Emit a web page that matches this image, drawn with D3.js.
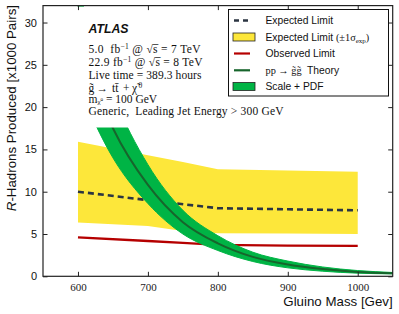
<!DOCTYPE html>
<html>
<head>
<meta charset="utf-8">
<script src="https://cdn.jsdelivr.net/npm/d3@7"></script>
<style>
  html, body { margin: 0; padding: 0; background: #fff; }
  svg { display: block; }
</style>
</head>
<body>
<div id="chart"></div>
<script>
// gluino masses [GeV]
var limitMass = [600, 700, 800, 900, 1000];
var expectedLimit = [10.0, 9.0, 8.05, 7.92, 7.8];
var bandMass = [600, 700, 750, 800, 900, 1000];
var bandUpper = [15.9, 14.3, 13.5, 12.65, 12.5, 12.35];
var bandLower = [6.35, 5.95, 5.35, 5.08, 5.05, 5.0];
var observedMass = [600, 700, 750, 800, 900, 1000];
var observedLimit = [4.6, 4.17, 3.95, 3.72, 3.63, 3.6];

// theory pp -> gluino pairs, with scale + pdf envelope
var theoryMass = [600, 650, 700, 750, 800, 850, 900, 950, 1000, 1050];
var theory = [28, 17.5, 10.8, 6.4, 3.9, 2.3, 1.4, 0.85, 0.52, 0.37];
var theoryUp = [34, 21.5, 13.2, 7.8, 4.8, 2.85, 1.8, 1.1, 0.68, 0.45];
var theoryDown = [22.5, 14.0, 8.6, 5.0, 3.05, 1.75, 1.0, 0.6, 0.37, 0.29];

var xTicks = [600, 700, 800, 900, 1000];
var yTicks = [0, 5, 10, 15, 20, 25, 30];

var W = 399, H = 314;
var plot = { left: 43, right: 392.7, top: 5.6, bottom: 276.3 };

var colors = {
  expected: "#2b3542",
  band: "#fde73a",
  observed: "#b50000",
  theoryLine: "#17652c",
  theoryFill: "#00b445",
  frame: "#222"
};

var svg = d3.select("#chart").append("svg")
  .attr("width", W).attr("height", H);

var x = d3.scaleLinear().domain([550, 1050]).range([plot.left, plot.right]);
var y = d3.scaleLinear().domain([0, 32]).range([plot.bottom, plot.top]);

svg.append("clipPath").attr("id", "plotclip")
  .append("rect")
  .attr("x", plot.left).attr("y", plot.top)
  .attr("width", plot.right - plot.left).attr("height", plot.bottom - plot.top);

var g = svg.append("g").attr("clip-path", "url(#plotclip)");

// yellow +-1 sigma band
var bandArea = d3.area()
  .x(function(d, i) { return x(bandMass[i]); })
  .y0(function(d, i) { return y(bandLower[i]); })
  .y1(function(d, i) { return y(bandUpper[i]); });
g.append("path").datum(bandMass)
  .attr("d", bandArea)
  .attr("fill", colors.band);

// expected limit (dashed)
var expLine = d3.line()
  .x(function(d, i) { return x(limitMass[i]); })
  .y(function(d) { return y(d); });
g.append("path").datum(expectedLimit)
  .attr("d", expLine)
  .attr("fill", "none")
  .attr("stroke", colors.expected)
  .attr("stroke-width", 2.6)
  .attr("stroke-dasharray", "6,4");

// observed limit
var obsLine = d3.line()
  .x(function(d, i) { return x(observedMass[i]); })
  .y(function(d) { return y(d); });
g.append("path").datum(observedLimit)
  .attr("d", obsLine)
  .attr("fill", "none")
  .attr("stroke", colors.observed)
  .attr("stroke-width", 2.4);

// theory band + central value
var thArea = d3.area()
  .curve(d3.curveMonotoneX)
  .x(function(d, i) { return x(theoryMass[i]); })
  .y0(function(d, i) { return y(theoryDown[i]); })
  .y1(function(d, i) { return y(theoryUp[i]); });
g.append("path").datum(theoryMass)
  .attr("d", thArea)
  .attr("fill", colors.theoryFill)
  .attr("stroke", colors.theoryFill)
  .attr("stroke-width", 1);

var thLine = d3.line()
  .curve(d3.curveMonotoneX)
  .x(function(d, i) { return x(theoryMass[i]); })
  .y(function(d) { return y(d); });
g.append("path").datum(theory)
  .attr("d", thLine)
  .attr("fill", "none")
  .attr("stroke", colors.theoryLine)
  .attr("stroke-width", 2);

// white box behind the info text
svg.append("rect")
  .attr("x", plot.left + 1).attr("y", plot.top + 1)
  .attr("width", 250).attr("height", 127.5 - plot.top - 1)
  .attr("fill", "#fff");

// frame
svg.append("rect")
  .attr("x", plot.left).attr("y", plot.top)
  .attr("width", plot.right - plot.left).attr("height", plot.bottom - plot.top)
  .attr("fill", "none").attr("stroke", colors.frame).attr("stroke-width", 1.2);

// axes, ticks point inward on all four sides
var tk = 4.5;
var xb = svg.append("g").attr("transform", "translate(0," + plot.bottom + ")")
  .call(d3.axisBottom(x).tickValues(xTicks).tickFormat(d3.format("d"))
    .tickSizeInner(-tk).tickSizeOuter(0).tickPadding(7));
var xt = svg.append("g").attr("transform", "translate(0," + plot.top + ")")
  .call(d3.axisTop(x).tickValues(xTicks).tickSizeInner(-tk).tickSizeOuter(0).tickFormat(""));
var yl = svg.append("g").attr("transform", "translate(" + plot.left + ",0)")
  .call(d3.axisLeft(y).tickValues(yTicks).tickSizeInner(-tk).tickSizeOuter(0).tickPadding(6));
var yr = svg.append("g").attr("transform", "translate(" + plot.right + ",0)")
  .call(d3.axisRight(y).tickValues(yTicks).tickSizeInner(-tk).tickSizeOuter(0).tickFormat(""));

[xb, xt, yl, yr].forEach(function(a) {
  a.select(".domain").remove();
  a.selectAll(".tick line").attr("stroke", colors.frame).attr("stroke-width", 1);
});
xb.selectAll(".tick text")
  .attr("font-family", "'Liberation Serif', serif")
  .attr("font-size", 11).attr("fill", "#222");
yl.selectAll(".tick text")
  .attr("font-family", "'Liberation Sans', Arial, sans-serif")
  .attr("font-size", 11).attr("fill", "#111");

// axis titles
svg.append("text")
  .attr("x", plot.right).attr("y", 305.5)
  .attr("text-anchor", "end")
  .attr("font-family", "'Liberation Sans', Arial, sans-serif")
  .attr("font-size", 13.3).attr("fill", "#111")
  .text("Gluino Mass [Gev]");

var yt = svg.append("text")
  .attr("transform", "translate(16,5) rotate(-90)")
  .attr("text-anchor", "end")
  .attr("font-family", "'Liberation Sans', Arial, sans-serif")
  .attr("font-size", 13.3).attr("fill", "#111");
yt.append("tspan").attr("font-style", "italic").text("R");
yt.append("tspan").text("-Hadrons Produced [x1000 Pairs]");

// info block
svg.append("text")
  .attr("x", 88.5).attr("y", 33)
  .attr("font-family", "'Liberation Sans', Arial, sans-serif")
  .attr("font-weight", "bold").attr("font-style", "italic")
  .attr("font-size", 12.3).attr("fill", "#111")
  .text("ATLAS");

var serif = "'Liberation Serif', 'Times New Roman', serif";
var info = svg.append("g")
  .attr("font-family", serif).attr("font-size", 11.5).attr("fill", "#111");
// baselines and widths of the info lines (the original is set in TeX, wider)
var infoY = [52.5, 65.5, 78.5, 92, 103, 114.5];
var infoW = [112, 114, 113, null, null, 195];

function addLine(i, parts) {
  var t = info.append("text").attr("x", 88.5).attr("y", infoY[i])
    .attr("xml:space", "preserve");
  if (infoW[i]) t.attr("textLength", infoW[i]).attr("lengthAdjust", "spacing");
  parts.forEach(function(p) {
    var s = t.append("tspan").text(p.t);
    if (p.x) s.attr("x", p.x);
    if (p.dy) s.attr("dy", p.dy);
    if (p.size) s.attr("font-size", p.size);
  });
  return t;
}

addLine(0, [{ t: "5.0  fb" }, { t: "\u22121", dy: -4, size: 7.5 }, { t: " @ \u221As\u0305 = 7 TeV", dy: 4 }]);
addLine(1, [{ t: "22.9 fb" }, { t: "\u22121", dy: -4, size: 7.5 }, { t: " @ \u221As\u0305 = 8 TeV", dy: 4 }]);
addLine(2, [{ t: "Live time = 389.3 hours" }]);
// decay line, each symbol placed on its own
addLine(3, [{ t: "g\u0303", x: 88.5 }, { t: "\u2192", x: 96.5 }, { t: "tt\u0304", x: 112 },
  { t: "+", x: 123 }, { t: "\u03C7\u0303", x: 132 }, { t: "0", x: 138.5, dy: -4, size: 7.5 }]);
addLine(4, [{ t: "m" }, { t: "\u03C7\u0303", dy: 1, size: 7 }, { t: "0", dy: -3, size: 5 },
  { t: " = 100 GeV", dy: 2 }]);
addLine(5, [{ t: "Generic,  Leading Jet Energy > 300 GeV" }]);

// legend
var lg = svg.append("g");
lg.append("rect")
  .attr("x", 228.5).attr("y", 9.5).attr("width", 160).attr("height", 86.5)
  .attr("fill", "#fff").attr("stroke", "#111").attr("stroke-width", 1);

var rowY = [20.5, 37, 53.5, 70.3, 86.5];
var sx0 = 233, sx1 = 255, tx = 265.5;
var sans = "'Liberation Sans', Arial, sans-serif";

lg.append("line").attr("x1", sx0 + 1).attr("x2", sx1 - 5).attr("y1", rowY[0]).attr("y2", rowY[0])
  .attr("stroke", colors.expected).attr("stroke-width", 2.6).attr("stroke-dasharray", "5,4");
lg.append("rect").attr("x", sx0).attr("y", rowY[1] - 4).attr("width", sx1 - sx0).attr("height", 8)
  .attr("fill", colors.band).attr("stroke", "#222").attr("stroke-width", 0.8);
lg.append("line").attr("x1", sx0 + 1).attr("x2", sx1 - 5).attr("y1", rowY[2]).attr("y2", rowY[2])
  .attr("stroke", colors.observed).attr("stroke-width", 2.2);
lg.append("line").attr("x1", sx0 + 1).attr("x2", sx1 - 5).attr("y1", rowY[3]).attr("y2", rowY[3])
  .attr("stroke", colors.theoryLine).attr("stroke-width", 2.2);
lg.append("rect").attr("x", sx0).attr("y", rowY[4] - 4).attr("width", sx1 - sx0).attr("height", 8)
  .attr("fill", colors.theoryFill).attr("stroke", "#222").attr("stroke-width", 0.8);

function legendText(i) {
  return lg.append("text").attr("x", tx).attr("y", rowY[i] + 3.6)
    .attr("font-family", sans).attr("font-size", 10.3).attr("fill", "#111")
    .attr("xml:space", "preserve");
}
legendText(0).text("Expected Limit");
var t1 = legendText(1);
t1.append("tspan").text("Expected Limit ");
t1.append("tspan").attr("font-family", serif).text("(\u00B11\u03C3");
t1.append("tspan").attr("font-family", serif).attr("font-size", 7).attr("dy", 2).text("exp");
t1.append("tspan").attr("font-family", serif).attr("dy", -2).text(")");
legendText(2).text("Observed Limit");
var t3 = legendText(3);
t3.append("tspan").attr("font-family", serif).text("pp \u2192 g\u0303g\u0303");
t3.append("tspan").text("  Theory");
legendText(4).text("Scale + PDF");
</script>
</body>
</html>
